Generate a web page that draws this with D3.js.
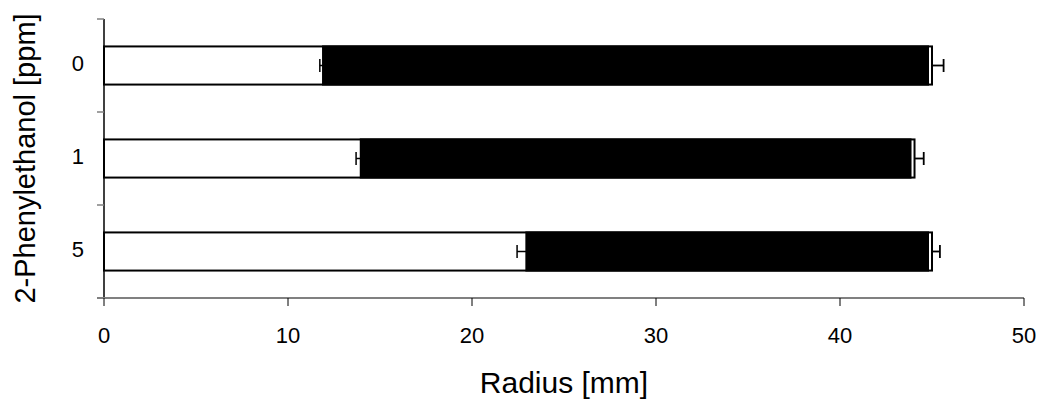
<!DOCTYPE html>
<html>
<head>
<meta charset="utf-8">
<script src="https://d3js.org/d3.v7.min.js"></script>
<style>
  body { margin: 0; background: #fff; }
  text { font-family: "Liberation Sans", Arial, sans-serif; fill: #000; }
</style>
</head>
<body>
<script>
// concentrations of 2-phenylethanol (ppm), top to bottom
var doses = ['0', '1', '5'];
// radius of the inner (white) zone and total radius, in mm
var innerRadius = [11.85, 13.9, 22.9];
var innerErr = [0.12, 0.2, 0.45];
var totalRadius = [45.0, 44.05, 45.0];
var totalErr = [0.63, 0.5, 0.43];
var xTicks = [0, 10, 20, 30, 40, 50];

var width = 1045, height = 401;
var margin = {left: 104, right: 21, top: 19, bottom: 103};

var svg = d3.select('body').append('svg')
  .attr('width', width)
  .attr('height', height);

var x = d3.scaleLinear()
  .domain([0, 50])
  .range([margin.left, width - margin.right]);

var y = d3.scaleBand()
  .domain(doses)
  .range([margin.top, height - margin.bottom])
  .paddingInner(0.59)
  .paddingOuter(0.295);

var band = d3.scaleBand()
  .domain(doses)
  .range([margin.top, height - margin.bottom]);

var rows = doses.map(function (d, i) {
  return {dose: d, inner: innerRadius[i], innerErr: innerErr[i],
          total: totalRadius[i], totalErr: totalErr[i]};
});

// y axis: line plus ticks at the category boundaries
svg.append('line')
  .attr('x1', x(0)).attr('x2', x(0))
  .attr('y1', band.range()[0]).attr('y2', band.range()[1])
  .attr('stroke', '#000').attr('stroke-width', 1.5);

var bounds = doses.map(function (d) { return band(d); }).concat([band.range()[1]]);
svg.selectAll('.ytick')
  .data(bounds)
  .enter().append('line')
  .attr('x1', x(0) - 7).attr('x2', x(0))
  .attr('y1', function (d) { return d; })
  .attr('y2', function (d) { return d; })
  .attr('stroke', '#808080').attr('stroke-width', 1.5);

svg.selectAll('.ylab')
  .data(doses)
  .enter().append('text')
  .attr('x', 84)
  .attr('y', function (d) { return band(d) + band.bandwidth() / 2 - 2; })
  .attr('dy', '0.35em')
  .attr('text-anchor', 'end')
  .style('font-size', '22px')
  .text(function (d) { return d; });

// white bars (0 to total)
svg.selectAll('.outer')
  .data(rows)
  .enter().append('rect')
  .attr('x', x(0))
  .attr('y', function (d) { return y(d.dose); })
  .attr('width', function (d) { return x(d.total) - x(0); })
  .attr('height', y.bandwidth())
  .attr('fill', '#fff')
  .attr('stroke', '#000')
  .attr('stroke-width', 2);

// error bars on the inner radius
var capH = 13;
var eb = svg.selectAll('.ierr')
  .data(rows)
  .enter().append('g');
eb.append('line')
  .attr('x1', function (d) { return x(d.inner - d.innerErr); })
  .attr('x2', function (d) { return x(d.inner + d.innerErr); })
  .attr('y1', function (d) { return y(d.dose) + y.bandwidth() / 2; })
  .attr('y2', function (d) { return y(d.dose) + y.bandwidth() / 2; })
  .attr('stroke', '#000').attr('stroke-width', 1.5);
eb.append('line')
  .attr('x1', function (d) { return x(d.inner - d.innerErr); })
  .attr('x2', function (d) { return x(d.inner - d.innerErr); })
  .attr('y1', function (d) { return y(d.dose) + y.bandwidth() / 2 - capH / 2; })
  .attr('y2', function (d) { return y(d.dose) + y.bandwidth() / 2 + capH / 2; })
  .attr('stroke', '#000').attr('stroke-width', 1.5);

// black bars (inner radius to total)
svg.selectAll('.ring')
  .data(rows)
  .enter().append('rect')
  .attr('x', function (d) { return x(d.inner); })
  .attr('y', function (d) { return y(d.dose) - 1; })
  .attr('width', function (d) { return x(d.total) - x(d.inner) - 3; })
  .attr('height', y.bandwidth() + 2)
  .attr('fill', '#000');

// error bars on the total radius
var tb = svg.selectAll('.terr')
  .data(rows)
  .enter().append('g');
tb.append('line')
  .attr('x1', function (d) { return x(d.total); })
  .attr('x2', function (d) { return x(d.total + d.totalErr); })
  .attr('y1', function (d) { return y(d.dose) + y.bandwidth() / 2; })
  .attr('y2', function (d) { return y(d.dose) + y.bandwidth() / 2; })
  .attr('stroke', '#000').attr('stroke-width', 1.8);
tb.append('line')
  .attr('x1', function (d) { return x(d.total + d.totalErr); })
  .attr('x2', function (d) { return x(d.total + d.totalErr); })
  .attr('y1', function (d) { return y(d.dose) + y.bandwidth() / 2 - capH / 2; })
  .attr('y2', function (d) { return y(d.dose) + y.bandwidth() / 2 + capH / 2; })
  .attr('stroke', '#000').attr('stroke-width', 1.8);

// x axis
var axisY = band.range()[1];
svg.append('line')
  .attr('x1', x(0) - 7).attr('x2', x(50))
  .attr('y1', axisY).attr('y2', axisY)
  .attr('stroke', '#808080').attr('stroke-width', 2);

svg.selectAll('.xtick')
  .data(xTicks)
  .enter().append('line')
  .attr('x1', function (d) { return x(d); })
  .attr('x2', function (d) { return x(d); })
  .attr('y1', axisY).attr('y2', axisY + 8)
  .attr('stroke', '#000').attr('stroke-width', 1);

svg.selectAll('.xlab')
  .data(xTicks)
  .enter().append('text')
  .attr('x', function (d) { return x(d); })
  .attr('y', 343)
  .attr('text-anchor', 'middle')
  .style('font-size', '22px')
  .text(function (d) { return d; });

// axis titles
svg.append('text')
  .attr('x', (x(0) + x(50)) / 2)
  .attr('y', 393)
  .attr('text-anchor', 'middle')
  .style('font-size', '30px')
  .text('Radius [mm]');

svg.append('text')
  .attr('transform', 'translate(35,' + ((band.range()[0] + band.range()[1]) / 2) + ') rotate(-90)')
  .attr('text-anchor', 'middle')
  .style('font-size', '29px')
  .text('2-Phenylethanol [ppm]');
</script>
</body>
</html>
